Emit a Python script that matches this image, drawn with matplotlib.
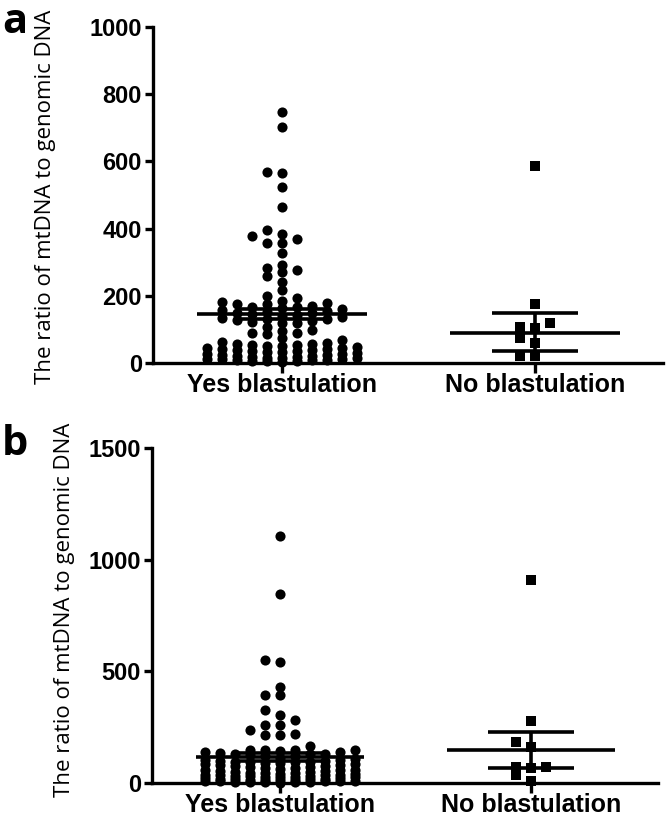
import numpy as np
import matplotlib
matplotlib.use("Agg")
import matplotlib.pyplot as plt

categories = ["Yes blastulation", "No blastulation"]

# panel a values
a_yes = [746, 703, 568, 565, 523, 463, 395, 385, 378, 368, 358, 358, 328, 293,
         283, 278, 270, 260, 240, 218, 198, 193, 186,
         181, 180, 176, 176, 171, 168, 166, 163, 160, 158, 155, 152,
         150, 148, 145, 142, 140, 138, 135, 132, 130, 128, 125, 123, 120, 118,
         108, 98, 96, 90, 88, 86, 73, 68,
         62, 60, 58, 57, 55, 54, 52, 50, 48, 46, 45, 43, 42, 40, 38, 36, 35,
         33, 32, 30, 28, 27, 25, 24, 22, 20, 19, 18, 16, 15, 14, 13, 12, 11,
         10, 9, 8, 7, 6, 5, 4]
a_no = [585, 175, 118, 108, 105, 75, 60, 22, 20]
a_mean = [145, 90]
a_low = [130, 35]
a_high = [162, 148]

# panel b values
b_yes = [1104, 848, 552, 542, 430, 393, 393, 325, 303, 284, 261, 258, 239,
         221, 216, 216,
         164, 149, 148, 147, 146, 145, 140, 139,
         135, 132, 130, 128, 125, 122, 120,
         112, 108, 105, 102, 100, 98, 96, 95, 93, 92, 90, 88, 86, 84, 82, 80,
         78, 75, 72, 70, 68, 65, 62, 60, 58, 56, 55, 52, 50, 48, 46, 45, 44,
         42, 40, 38, 38, 36, 35, 33, 31, 30, 28, 27, 26, 25, 23, 22, 20, 19,
         18, 17, 15, 14, 13, 12, 11, 10, 9, 8, 7, 6, 6, 5, 4, 3, 2]
b_no = [910, 278, 185, 162, 72, 70, 68, 35, 8]
b_mean = [118, 148]
b_low = [100, 69]
b_high = [136, 228]

ylabel = "The ratio of mtDNA to genomic DNA"

W, H = 666, 819
fig = plt.figure(figsize=(W / 100, H / 100), dpi=100)


def swarm_x(ax, xc, vals, spacing, ncol, mind):
    # column layout like GraphPad: nearest free column to the centre,
    # otherwise the column with the most room
    vals = np.asarray(vals, dtype=float)
    ypx = ax.transData.transform(np.column_stack([np.zeros_like(vals), vals]))[:, 1]
    px_per_x = ax.transData.transform([(1, 0)])[0, 0] - ax.transData.transform([(0, 0)])[0, 0]
    order = [0]
    for k in range(1, ncol + 1):
        order += [-k, k]
    last = {k: None for k in order}
    xs = np.zeros_like(vals)
    for i in np.argsort(ypx):
        y = ypx[i]
        pick = None
        for k in order:
            if last[k] is None or y - last[k] >= mind:
                pick = k
                break
        if pick is None:
            pick = max(order, key=lambda k: y - last[k])
        last[pick] = y
        xs[i] = xc + pick * spacing / px_per_x
    return xs


def panel(rect, yes, no, mean, low, high, ymax, ystep, letter, letter_y, lab_x, lab_y):
    ax = fig.add_axes(rect)
    ax.set_xlim(-0.51, 1.505)
    ax.set_ylim(0, ymax)
    for s in ["top", "right"]:
        ax.spines[s].set_visible(False)
    for s in ["left", "bottom"]:
        ax.spines[s].set_linewidth(2.4)
    ax.set_yticks(np.arange(0, ymax + 1, ystep))
    ax.set_xticks([0, 1])
    ax.set_xticklabels(categories)
    ax.tick_params(axis="y", length=6, width=2.4, pad=2, labelsize=17)
    ax.tick_params(axis="x", length=7, width=2.4, pad=0, labelsize=18)
    for t in ax.get_yticklabels() + ax.get_xticklabels():
        t.set_fontfamily("Liberation Sans")
        t.set_fontweight("bold")

    xy = swarm_x(ax, 0, yes, 15, 5, 7)
    ax.plot(xy, yes, "o", color="black", ms=7.3, mew=0, clip_on=False, zorder=3)
    xn = swarm_x(ax, 1, no, 15, 3, 8)
    ax.plot(xn, no, "s", color="black", ms=7.3, mew=0, clip_on=False, zorder=3)

    for i in range(2):
        ax.hlines(mean[i], i - 0.335, i + 0.335, color="black", lw=2.6, zorder=4)
        ax.hlines([low[i], high[i]], i - 0.17, i + 0.17, color="black", lw=2.6, zorder=4)
        ax.vlines(i, low[i], high[i], color="black", lw=2.6, zorder=4)

    fig.text(2 / W, 1 - letter_y / H, letter, fontsize=30, fontweight="bold",
             family="Open Sans", ha="left", va="baseline")
    fig.text(lab_x / W, 1 - lab_y / H, ylabel, rotation=90, fontsize=16,
             family="Open Sans", ha="center", va="center")
    return ax


panel([153 / W, 1 - 363 / H, (663 - 153) / W, (363 - 27) / H],
      a_yes, a_no, a_mean, a_low, a_high, 1000, 200, "a", 33, 46, 197)
panel([152 / W, 1 - 783 / H, (658 - 152) / W, (783 - 448) / H],
      b_yes, b_no, b_mean, b_low, b_high, 1500, 500, "b", 455, 65, 610)

fig.savefig("out.png", dpi=100)
